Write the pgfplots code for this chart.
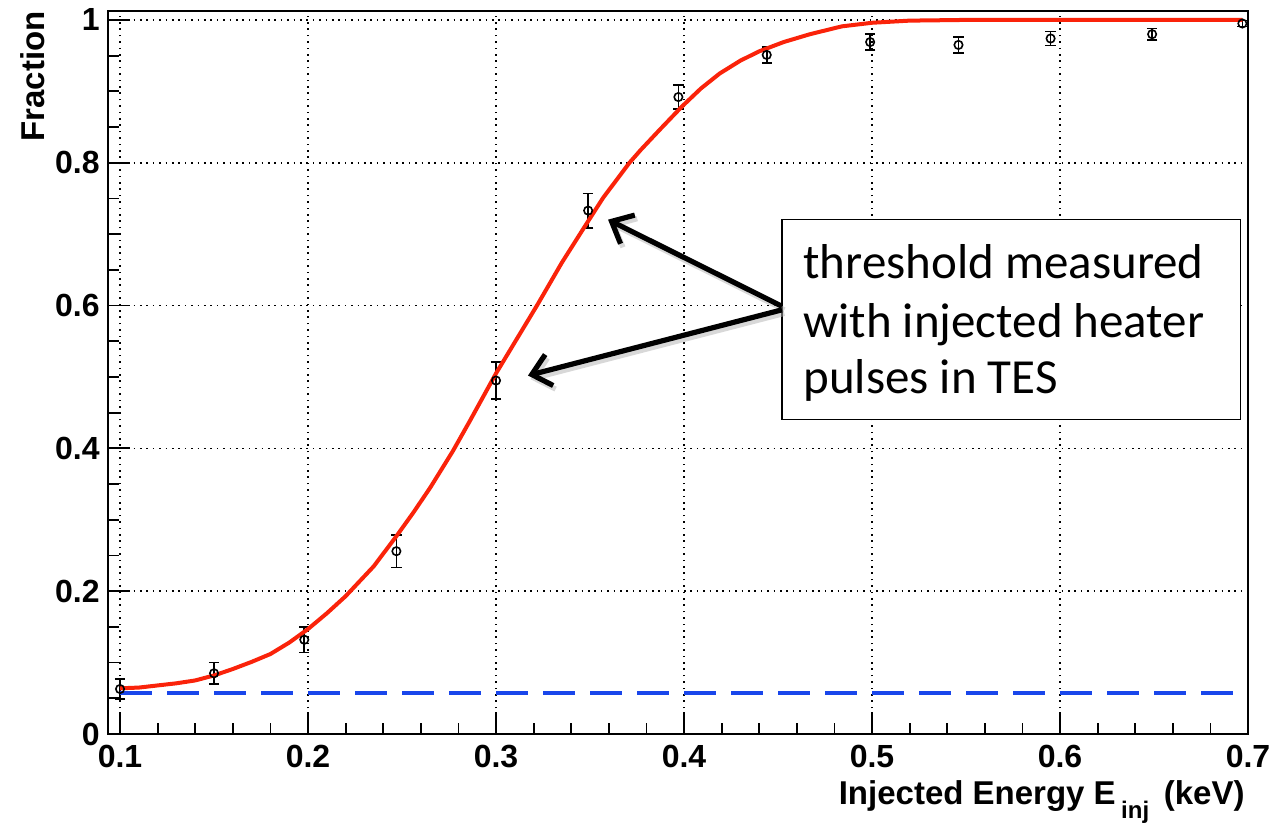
\documentclass[border=0pt]{standalone}
\usepackage{fontspec}
\setmainfont{Liberation Sans}
\newfontfamily\carlito{Carlito}
\usepackage{pgfplots}
\pgfplotsset{compat=1.18}
\usepackage{pgfplotstable}
\usetikzlibrary{arrows.meta}
\definecolor{rootred}{RGB}{250,35,10}
\definecolor{rootblue}{RGB}{25,70,235}

\pgfplotstableread{
x y e
0.100 0.063 0.014
0.150 0.085 0.015
0.198 0.132 0.018
0.247 0.256 0.023
0.300 0.495 0.026
0.349 0.733 0.024
0.397 0.892 0.017
0.444 0.951 0.011
0.499 0.969 0.011
0.546 0.965 0.011
0.595 0.974 0.010
0.649 0.980 0.008
0.697 0.995 0.004
}\datatable

\pgfplotstableread{
x y
0.100 0.064
0.110 0.065
0.120 0.068
0.130 0.071
0.140 0.075
0.150 0.082
0.160 0.091
0.170 0.101
0.180 0.112
0.190 0.128
0.200 0.147
0.210 0.169
0.220 0.193
0.235 0.235
0.247 0.277
0.256 0.310
0.265 0.345
0.277 0.396
0.286 0.438
0.300 0.505
0.311 0.553
0.322 0.601
0.335 0.660
0.348 0.714
0.357 0.751
0.371 0.800
0.377 0.818
0.387 0.846
0.399 0.879
0.409 0.904
0.419 0.925
0.430 0.943
0.440 0.956
0.453 0.969
0.467 0.980
0.484 0.991
0.500 0.996
0.520 0.999
0.550 1.000
0.697 1.000
}\fittable

\begin{document}
\begin{tikzpicture}
\begin{axis}[
  at={(0,0)}, anchor=south west,
  scale only axis, width=570pt, height=361.5pt,
  xmin=0.0936, xmax=0.7, ymin=0, ymax=1.0125,
  xtick={0.1,0.2,0.3,0.4,0.5,0.6,0.7},
  ytick={0,0.2,0.4,0.6,0.8,1},
  minor x tick num=4, minor y tick num=3,
  tick pos=left, tick align=inside,
  major tick length=11pt, minor tick length=5.5pt,
  every tick/.style={black, line width=0.9pt},
  axis line style={black, line width=1pt},
  grid=major,
  major grid style={black, line width=0.8pt, dash pattern=on 0.8pt off 2.4pt},
  /pgf/number format/assume math mode=true,
  /pgf/number format/.cd, fixed, precision=1, /pgfplots/.cd,
  xticklabel style={font=\fontsize{16}{16}\selectfont\bfseries, inner sep=0pt, yshift=-5.5pt},
  yticklabel style={font=\fontsize{16}{16}\selectfont\bfseries, inner sep=0pt, xshift=-4pt},
  ylabel={Fraction},
  ylabel style={font=\fontsize{16.5}{16.5}\selectfont\bfseries, at={(axis description cs:-0.0553,1.0)}, anchor=south east, inner sep=0pt},
  xlabel={Injected Energy E\,\raisebox{-0.75ex}{\fontsize{12}{12}\selectfont inj}\, (keV)},
  xlabel style={font=\fontsize{16.5}{16.5}\selectfont\bfseries, at={(axis description cs:1,0)}, anchor=base east, inner sep=0pt, yshift=-35.5pt, xshift=-1.5pt},
]
\addplot[black, line width=0.8pt, mark=o, mark size=2.1pt, only marks,
  error bars/.cd, y dir=both, y explicit,
  error bar style={black, line width=0.8pt},
  error mark=-,
  error mark options={rotate=90, black, line width=0.8pt, mark size=2.6pt}]
  table[x=x, y=y, y error=e] {\datatable};
\addplot[rootred, line width=2pt, no marks] table[x=x, y=y] {\fittable};
\addplot[rootblue, line width=2pt, dash pattern=on 16pt off 7.5pt, no marks] coordinates {(0.1,0.057) (0.7,0.057)};

% annotation box
\draw[black, line width=0.7pt, fill=white] (axis cs:0.4521,0.4406) rectangle (axis cs:0.6960,0.7203);
\node[anchor=base west, inner sep=0pt, font=\carlito\fontsize{24.5}{29}\selectfont] at (axis cs:0.4633,0.6378) {threshold measured};
\node[anchor=base west, inner sep=0pt, font=\carlito\fontsize{24.5}{29}\selectfont] at (axis cs:0.4633,0.5552) {with injected heater};
\node[anchor=base west, inner sep=0pt, font=\carlito\fontsize{24.5}{29}\selectfont] at (axis cs:0.4633,0.4769) {pulses in TES};
% arrows (shadow then arrow)
\begin{scope}[transform canvas={shift={(1.2pt,-1.8pt)}}]
\draw[gray!60, opacity=0.5, line width=2.6pt, -{Straight Barb[length=9pt, width=16pt, line width=2.6pt]}] (axis cs:0.4521,0.599) -- (axis cs:0.3596,0.7203);
\draw[gray!60, opacity=0.5, line width=2.6pt, -{Straight Barb[length=9pt, width=16pt, line width=2.6pt]}] (axis cs:0.4521,0.594) -- (axis cs:0.3170,0.502);
\end{scope}
\draw[black, line width=2.6pt, -{Straight Barb[length=9pt, width=16pt, line width=2.6pt]}] (axis cs:0.4521,0.599) -- (axis cs:0.3596,0.7203);
\draw[black, line width=2.6pt, -{Straight Barb[length=9pt, width=16pt, line width=2.6pt]}] (axis cs:0.4521,0.594) -- (axis cs:0.3170,0.502);
\end{axis}
\pgfresetboundingbox
\path[use as bounding box] (-54pt,-47.5pt) rectangle (583pt,367pt);
\end{tikzpicture}
\end{document}
